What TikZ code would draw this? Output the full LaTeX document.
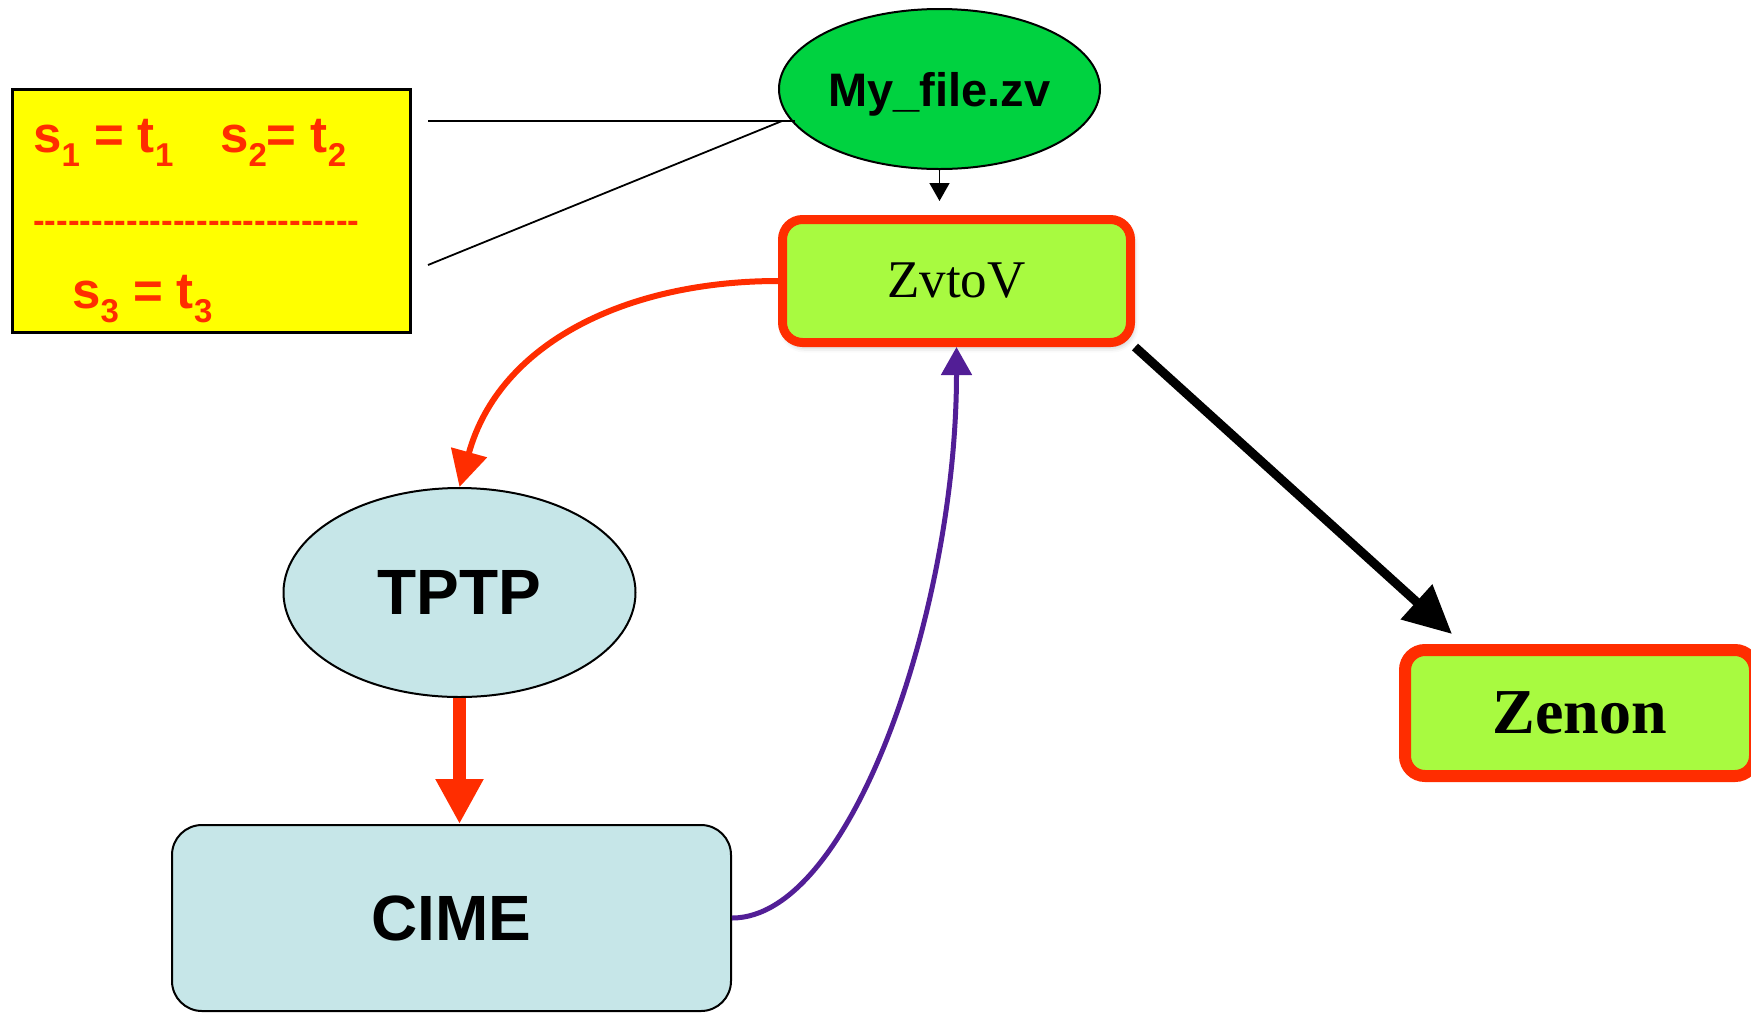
\documentclass[tikz,border=0pt]{standalone}
\usepackage{fontspec}
\setmainfont{Liberation Serif}
\setsansfont{Liberation Sans}
\usetikzlibrary{shapes.geometric,arrows.meta,shadows.blur}

\definecolor{eqred}{RGB}{255,45,0}
\definecolor{eqyellow}{RGB}{255,255,0}
\definecolor{filegreen}{RGB}{0,210,64}
\definecolor{toolgreen}{RGB}{168,250,64}
\definecolor{toolblue}{RGB}{198,230,232}
\definecolor{linkpurple}{RGB}{82,30,150}

% lowered index digit for the equations
\newcommand{\eqsub}[1]{\raisebox{-14pt}{\fontsize{33}{33}\selectfont #1}}

\tikzset{
  eqtext/.style={anchor=base west, inner sep=0pt, text=eqred,
    font=\sffamily\bfseries\fontsize{51}{60}\selectfont},
  tool/.style={rounded corners=20pt, draw=eqred, fill=toolgreen, inner sep=0pt},
  prog/.style={draw=black, line width=2pt, fill=toolblue, inner sep=0pt,
    font=\sffamily\bfseries\fontsize{64}{70}\selectfont},
}

\begin{document}
\begin{tikzpicture}[x=1pt, y=-1pt]
  \useasboundingbox (0,0) rectangle (1751,1013);

  % Draw the box with the equations
  \node[draw=black, line width=3pt, fill=eqyellow, inner sep=0pt,
    minimum width=398pt, minimum height=243pt] (eqs) at (211.5,211) {};
  \node[eqtext] (eqa) at (33,152) {s\eqsub{1} = t\eqsub{1}};
  \node[eqtext] (eqb) at (220,152) {s\eqsub{2}= t\eqsub{2}};
  \node[eqtext, font=\sffamily\bfseries\fontsize{35}{40}\selectfont] (eqrule) at (33,232)
    {\foreach \k in {1,...,28}{-{}}};
  \node[eqtext] (eqc) at (72,308) {s\eqsub{3} = t\eqsub{3}};

  % Draw the file, the tools and the programs
  \node[ellipse, draw=black, line width=2pt, fill=filegreen, inner sep=0pt,
    minimum width=321pt, minimum height=160pt, text height=34pt, text depth=0pt,
    font=\sffamily\bfseries\fontsize{47}{50}\selectfont] (myfile) at (939.5,89) {My\_file.zv};
  \node[tool, line width=9pt, minimum width=348pt, minimum height=123pt,
    font=\fontsize{53}{56}\selectfont,
    blur shadow={shadow xshift=2pt, shadow yshift=-4pt, shadow blur radius=6pt, shadow opacity=30}]
    (zvtov) at (956.5,281) {ZvtoV};
  \node[tool, line width=12pt, minimum width=350pt, minimum height=126pt,
    font=\bfseries\fontsize{64}{70}\selectfont] (zenon) at (1580,713) {Zenon};
  \node[prog, ellipse, minimum width=352pt, minimum height=209pt] (tptp) at (459.5,592.5) {TPTP};
  \node[prog, rounded corners=30pt, minimum width=559pt, minimum height=186pt] (cime) at (451.5,918) {CIME};

  % Draw the arrows
  \draw[line width=1.5pt, -{Triangle[width=20pt,length=18pt]}, shorten >=14pt]
    (myfile.south) -- (myfile.south |- zvtov.north);
  \draw[eqred, line width=6pt, -{Triangle[width=36pt,length=36pt]}]
    (zvtov.west) .. controls +(-150,0) and +(40,-145) .. (tptp.north);
  \draw[eqred, line width=13pt, -{Triangle[width=45pt,length=45pt]}]
    (tptp.south) -- (tptp.south |- cime.north);
  \draw[linkpurple, line width=5pt, -{Triangle[width=30pt,length=28pt]}]
    (cime.east) .. controls +(120,0) and +(0,260) .. (zvtov.south);
  \coordinate (zenontip) at (1452,634);
  \draw[line width=9pt, -{Triangle[width=45pt,length=48pt]}] (zvtov.south east) -- (zenontip);

  % Connect the equations to the file
  \coordinate (eqtop) at (428,121);
  \coordinate (eqbot) at (428,265);
  \coordinate (filein) at (782,121);
  \draw[line width=1.8pt] (eqtop) -- ++(367,0);
  \draw[line width=1.8pt] (eqbot) -- (filein);
\end{tikzpicture}
\end{document}
